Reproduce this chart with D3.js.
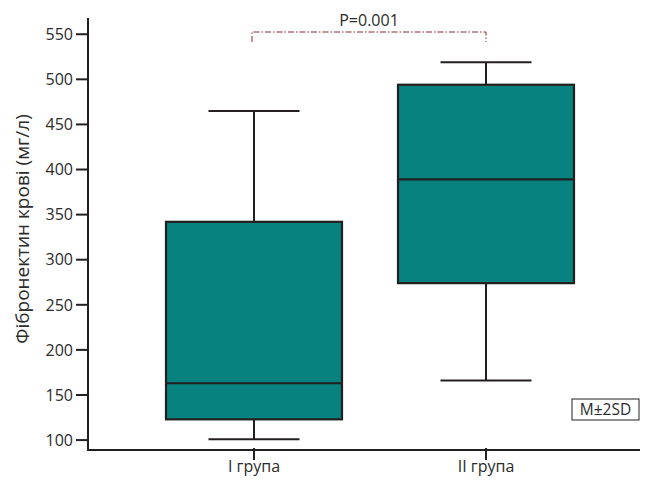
<!DOCTYPE html>
<html>
<head>
<meta charset="utf-8">
<script src="https://cdn.jsdelivr.net/npm/d3@7"></script>
<style>
  body { margin: 0; background: #fff; }
  text { font-family: "Open Sans", sans-serif; fill: #2b2b2b; }
</style>
</head>
<body>
<svg id="chart" width="651" height="490"></svg>
<script>
"use strict";

// Дані: групи та статистики (M±2SD)
const groups = ["I група", "II група"];
const whiskerLow = [101, 166];
const boxLow = [123, 274];
const medians = [163, 389];
const boxHigh = [342, 494];
const whiskerHigh = [465, 519];
const yTicks = [100, 150, 200, 250, 300, 350, 400, 450, 500, 550];
const pLabel = "P=0.001";
const legendLabel = "M±2SD";

const svg = d3.select("#chart");
const axisLeft = 88, axisRight = 640, axisTop = 18, axisBottom = 450;
const ink = "#231f20";

const y = d3.scaleLinear().domain([89, 568]).range([axisBottom, axisTop]);
const x = d3.scalePoint().domain(groups).range([254, 486]);
const boxW = 176, capW = 91;

const stats = groups.map((g, i) => ({
  name: g, lo: whiskerLow[i], q1: boxLow[i], med: medians[i], q3: boxHigh[i], hi: whiskerHigh[i]
}));

// осі
svg.append("line")
    .attr("x1", axisLeft).attr("x2", axisLeft)
    .attr("y1", axisTop).attr("y2", axisBottom)
    .attr("stroke", ink).attr("stroke-width", 2);
svg.append("line")
    .attr("x1", axisLeft - 1).attr("x2", axisRight)
    .attr("y1", axisBottom).attr("y2", axisBottom)
    .attr("stroke", ink).attr("stroke-width", 2);

const yt = svg.selectAll("g.ytick")
    .data(yTicks)
  .enter().append("g")
    .attr("class", "ytick")
    .attr("transform", d => `translate(0,${y(d)})`);
yt.append("line")
    .attr("x1", axisLeft - 12).attr("x2", axisLeft)
    .attr("stroke", ink).attr("stroke-width", 2);
yt.append("text")
    .attr("x", axisLeft - 15)
    .attr("dy", "0.36em")
    .attr("text-anchor", "end")
    .attr("font-size", 16)
    .text(d => d);

const xt = svg.selectAll("g.xtick")
    .data(groups)
  .enter().append("g")
    .attr("class", "xtick")
    .attr("transform", d => `translate(${x(d)},0)`);
xt.append("line")
    .attr("y1", axisBottom - 2).attr("y2", axisBottom + 10)
    .attr("stroke", ink).attr("stroke-width", 2);
xt.append("text")
    .attr("y", axisBottom + 22)
    .attr("text-anchor", "middle")
    .attr("font-size", 16)
    .text(d => d);

svg.append("text")
    .attr("transform", "translate(29,229) rotate(-90)")
    .attr("text-anchor", "middle")
    .attr("font-size", 19)
    .text("Фібронектин крові (мг/л)");

// боксплоти
const box = svg.selectAll("g.box")
    .data(stats)
  .enter().append("g")
    .attr("class", "box")
    .attr("transform", d => `translate(${x(d.name)},0)`);
box.append("line")
    .attr("y1", d => y(d.hi)).attr("y2", d => y(d.lo))
    .attr("stroke", ink).attr("stroke-width", 2);
box.append("line")
    .attr("x1", -capW / 2).attr("x2", capW / 2)
    .attr("y1", d => y(d.hi)).attr("y2", d => y(d.hi))
    .attr("stroke", ink).attr("stroke-width", 2);
box.append("line")
    .attr("x1", -capW / 2).attr("x2", capW / 2)
    .attr("y1", d => y(d.lo)).attr("y2", d => y(d.lo))
    .attr("stroke", ink).attr("stroke-width", 2);
box.append("rect")
    .attr("x", -boxW / 2).attr("width", boxW)
    .attr("y", d => y(d.q3))
    .attr("height", d => y(d.q1) - y(d.q3))
    .attr("fill", "#07827f")
    .attr("stroke", ink).attr("stroke-width", 2.2);
box.append("line")
    .attr("x1", -boxW / 2).attr("x2", boxW / 2)
    .attr("y1", d => y(d.med)).attr("y2", d => y(d.med))
    .attr("stroke", ink).attr("stroke-width", 2.2);

// значущість
const bx1 = x(groups[0]) - 2, bx2 = x(groups[1]), bTop = 32, bBot = 42;
svg.append("path")
    .attr("d", `M${bx1},${bBot}V${bTop}H${bx2}V${bBot}`)
    .attr("fill", "none")
    .attr("stroke", "#8b2a2a")
    .attr("stroke-width", 1)
    .attr("stroke-dasharray", "6,2,1.5,2");
svg.append("text")
    .attr("x", (bx1 + bx2) / 2)
    .attr("y", 26)
    .attr("text-anchor", "middle")
    .attr("font-size", 16)
    .text(pLabel);

// легенда
const lg = svg.append("g").attr("transform", "translate(572,399)");
lg.append("rect")
    .attr("width", 67).attr("height", 21)
    .attr("fill", "#fff")
    .attr("stroke", ink).attr("stroke-width", 1);
lg.append("text")
    .attr("x", 33.5).attr("y", 16)
    .attr("text-anchor", "middle")
    .attr("font-size", 15.5)
    .text(legendLabel);
</script>
</body>
</html>
